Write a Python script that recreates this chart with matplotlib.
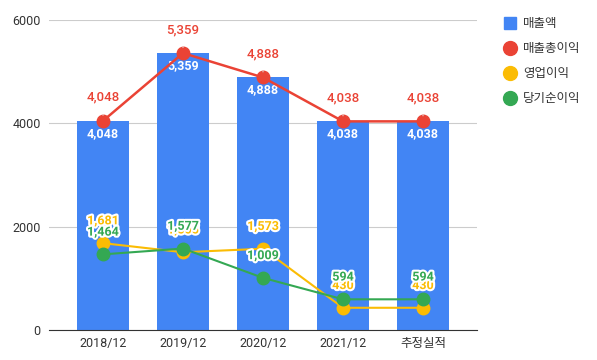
import matplotlib
matplotlib.use('Agg')
import matplotlib.pyplot as plt
import matplotlib.patheffects as pe
from matplotlib.lines import Line2D

plt.rcParams['font.family'] = ['Roboto', 'Noto Sans CJK KR', 'DejaVu Sans']

categories = ['2018/12', '2019/12', '2020/12', '2021/12', '추정실적']
sales = [4048, 5359, 4888, 4038, 4038]
gross_profit = [4048, 5359, 4888, 4038, 4038]
operating_profit = [1681, 1505, 1573, 430, 430]
net_profit = [1464, 1577, 1009, 594, 594]

BLUE = '#4285F4'
RED = '#EA4335'
YELLOW = '#FBBC04'
GREEN = '#34A853'

fig = plt.figure(figsize=(5.97, 3.6), dpi=100)
ax = fig.add_axes([49 / 597, 30 / 360, 428 / 597, 310 / 360])

x = list(range(len(categories)))
ax.bar(x, sales, width=0.65, color=BLUE, zorder=2)

ax.plot(x, gross_profit, color=RED, lw=1.8, marker='o', ms=9, zorder=4)
ax.plot(x, operating_profit, color=YELLOW, lw=1.5, marker='o', ms=9, zorder=4)
ax.plot(x, net_profit, color=GREEN, lw=1.5, marker='o', ms=9, zorder=5)

outline = [pe.withStroke(linewidth=3, foreground='white')]

for xi, v in zip(x, sales):
    ax.annotate(f'{v:,}', (xi, v), xytext=(0, -9), textcoords='offset points',
                ha='center', va='center', color='white', fontsize=9, fontweight='bold', zorder=3)

for xi, v in zip(x, gross_profit):
    ax.annotate(f'{v:,}', (xi, v), xytext=(0, 17), textcoords='offset points',
                ha='center', va='center', color=RED, fontsize=9.5, fontweight='medium',
                arrowprops=dict(arrowstyle='-', color='#dddddd', lw=0.8, shrinkA=6, shrinkB=4),
                zorder=6)

for xi, v in zip(x, operating_profit):
    ax.annotate(f'{v:,}', (xi, v), xytext=(0, 16), textcoords='offset points',
                ha='center', va='center', color=YELLOW, fontsize=9, fontweight='bold',
                path_effects=outline, zorder=6)

for xi, v in zip(x, net_profit):
    ax.annotate(f'{v:,}', (xi, v), xytext=(0, 16), textcoords='offset points',
                ha='center', va='center', color=GREEN, fontsize=9, fontweight='bold',
                path_effects=outline, zorder=7)

ax.set_xlim(-0.675, 4.675)
ax.set_ylim(0, 6000)
ax.set_yticks([0, 2000, 4000, 6000])
ax.set_xticks(x)
ax.set_xticklabels(categories)
ax.tick_params(length=0, labelsize=9, colors='#333333', pad=5)
ax.tick_params(axis='y', pad=6)
ax.grid(axis='y', color='#cccccc', lw=0.8, zorder=0)
for s in ['top', 'right', 'left']:
    ax.spines[s].set_visible(False)
ax.spines['bottom'].set_color('#333333')
ax.spines['bottom'].set_zorder(3)

handles = [
    Line2D([], [], ls='', marker='s', ms=9, color=BLUE),
    Line2D([], [], ls='', marker='o', ms=10, color=RED),
    Line2D([], [], ls='', marker='o', ms=10, color=YELLOW),
    Line2D([], [], ls='', marker='o', ms=10, color=GREEN),
]
labels = ['매출액', '매출총이익', '영업이익', '당기순이익']
fig.legend(handles, labels, loc='upper left', bbox_to_anchor=(492 / 597, 1 - 6 / 360),
           frameon=False, fontsize=9, handletextpad=0.6, labelspacing=0.95,
           handlelength=1.0, labelcolor='#333333')

fig.savefig('out.png', dpi=100)
